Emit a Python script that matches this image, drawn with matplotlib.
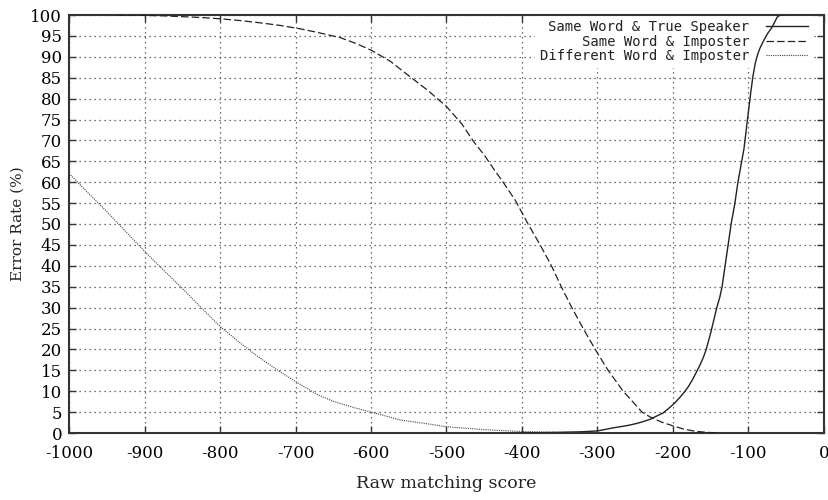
import matplotlib.pyplot as plt
from matplotlib.ticker import MultipleLocator

plt.rcParams['axes.unicode_minus'] = False

# Same Word & True Speaker
score_true = [-400, -380, -350, -320, -300, -280, -260, -250, -240, -230, -220, -213,
              -205, -200, -195, -190, -185, -180, -175, -170, -165, -160, -156, -150,
              -146, -142, -138, -135, -131, -127, -123, -118, -114, -110, -106, -103,
              -100, -97, -94, -91, -88, -85, -81, -75, -69, -62, -58, -52]
err_true = [0.0, 0.05, 0.15, 0.3, 0.5, 1.2, 1.8, 2.2, 2.7, 3.3, 4.2, 4.8,
            6.0, 6.8, 7.7, 8.7, 9.8, 11.0, 12.5, 14.2, 16, 18, 20, 24,
            27, 30, 32.5, 35, 40, 45, 50, 55, 60, 64, 68, 72.5,
            77, 81.5, 85.5, 88.5, 90.5, 92, 93.5, 95.5, 97, 99.5, 100, 100]

# Same Word & Imposter
score_imp = [-936, -925, -900, -875, -850, -825, -800, -775, -750, -720, -694, -670,
             -641, -620, -600, -575, -548, -525, -500, -480, -464, -450, -438, -425,
             -409, -392, -376, -361, -348, -334, -319, -303, -286, -266, -250, -241,
             -230, -215, -200, -185, -170, -155, -144]
err_imp = [100, 100, 99.9, 99.8, 99.6, 99.4, 99.1, 98.7, 98.2, 97.5, 96.7, 95.8,
           94.6, 93.2, 91.6, 89.0, 85.2, 82, 78.1, 74, 69.7, 66.5, 63.3, 60,
           55.7, 50, 45, 40, 35, 30, 25, 20, 15, 10, 6.8, 5,
           3.8, 2.6, 1.7, 0.9, 0.4, 0.15, 0.05]

# Different Word & Imposter
score_diff = [-1000, -975, -950, -925, -900, -875, -850, -825, -800, -775, -750, -725,
              -700, -670, -650, -625, -600, -575, -561, -525, -500, -450, -400, -350,
              -300, -284]
err_diff = [62.1, 57.5, 53.0, 48.2, 43.5, 39.0, 34.6, 30.0, 25.5, 21.8, 18.3, 15.2,
            12.3, 9.1, 7.6, 6.2, 5.0, 3.8, 3.1, 2.2, 1.5, 0.8, 0.35, 0.2,
            0.1, 0.1]

fig = plt.figure(figsize=(8.29, 5.0), dpi=100)
ax = fig.add_axes([69/829, 1 - 433/500, 755/829, 418/500])

ax.plot(score_true, err_true, color='#222222', lw=1.0, ls='-',
        label='Same Word & True Speaker', zorder=3)
ax.plot(score_imp, err_imp, color='#222222', lw=0.9, ls=(0, (6, 2.5)),
        label='Same Word & Imposter', zorder=3)
ax.plot(score_diff, err_diff, color='#444444', lw=0.8, ls=(0, (1, 1)),
        label='Different Word & Imposter', zorder=3)

ax.set_xlim(-1000, 0)
ax.set_ylim(0, 100)
ax.xaxis.set_major_locator(MultipleLocator(100))
ax.yaxis.set_major_locator(MultipleLocator(5))

ax.set_axisbelow(True)
ax.grid(True, color='#444444', lw=0.9, ls=(0, (1, 3)))

for s in ax.spines.values():
    s.set_linewidth(1.5)
    s.set_color('#333333')

ax.tick_params(direction='in', length=5, width=1.0, top=True, right=True,
               labelsize=12, color='#333333')
ax.tick_params(axis='x', pad=9)
ax.tick_params(axis='y', pad=5)
for lab in ax.get_xticklabels() + ax.get_yticklabels():
    lab.set_family('DejaVu Serif')

ax.set_xlabel('Raw matching score', family='DejaVu Serif', fontsize=12.5,
              labelpad=9, color='#222222')
ax.set_ylabel('Error Rate (%)', family='DejaVu Serif', fontsize=11,
              labelpad=4, color='#222222')

leg = ax.legend(loc='upper right', bbox_to_anchor=(0.985, 1.0), borderaxespad=0,
                markerfirst=False, frameon=True, fancybox=False, framealpha=1,
                facecolor='white', edgecolor='none', borderpad=0.35,
                labelspacing=0.05, handlelength=3.0, handletextpad=1.2,
                prop={'family': 'DejaVu Sans Mono', 'size': 10})
leg.set_zorder(2)
for t in leg.get_texts():
    t.set_color('#222222')

fig.savefig('out.png', dpi=100)
